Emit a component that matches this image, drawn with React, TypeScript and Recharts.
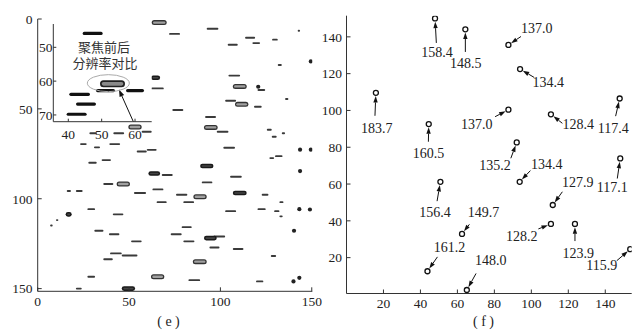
import React from 'react';
import { ScatterChart, Scatter, XAxis, YAxis, ReferenceLine, ReferenceDot, ReferenceArea } from 'recharts';

const FONT = '"Liberation Serif", "Times New Roman", serif';
const CJK = '"Liberation Serif", "Noto Sans CJK SC", serif';
const INK = '#222';

// ---------- panel (e) ----------
const eTicks = [0, 50, 100, 150];
// [x1, x2, y]
const thinDashes: [number, number, number][] = [
  [71.9, 77.9, 8.3], [92.5, 98.9, 5.4], [142.3, 143.6, 6.5], [113.5, 119, 10.4], [117.5, 121.7, 13.4],
  [128.3, 131.4, 11.5], [104, 109.5, 14.3], [131.4, 133.6, 25.6], [62, 69, 38.6], [104.4, 110.8, 31.5],
  [120.3, 124.5, 39.5], [135.4, 137.2, 44.5], [102.6, 108.6, 45.5], [118.4, 122.6, 48.8], [73.7, 79.7, 50.6],
  [91.6, 97.6, 54.5], [56.9, 62.4, 62.7], [98, 104.4, 62.7], [125.4, 128.1, 61.6], [128.1, 130.8, 65.5],
  [133.6, 135.4, 63.6], [28.3, 32.3, 63.6], [41.4, 47.3, 63.6], [23.2, 26.8, 69.6], [30.8, 34.1, 71.4],
  [39.2, 45.1, 69.6], [54.2, 59.7, 73.7], [59.7, 65.1, 72.8], [101.6, 108, 71.6], [126.8, 129.4, 77.4],
  [129.9, 134, 76.3], [27.7, 32.3, 80], [35, 40.1, 78.5], [67.9, 73.9, 86.8], [105.3, 111.7, 87.8],
  [35.9, 41.4, 91.8], [89.8, 95.6, 90.9], [15.9, 18.2, 95.7], [20.9, 24.6, 95.7], [52.7, 59.3, 96.8],
  [62.8, 68.8, 94.8], [75.7, 81.9, 97.8], [122.6, 126.3, 97.8], [65.1, 70.6, 101.9], [79.7, 85.6, 101.9],
  [132.3, 134.5, 101.9], [27.2, 31.4, 105.8], [41.1, 46.9, 108.7], [102.6, 108.6, 106.9], [120.3, 124.8, 105.8],
  [129.4, 132.3, 106.9], [132.3, 134.1, 109.8], [10, 11.3, 111.9], [6.8, 8.2, 114.9], [31, 36, 117.8],
  [39, 44.7, 119.8], [78.8, 84.3, 115.8], [72.8, 78.8, 119.8], [51.1, 56.9, 123.7], [79.7, 85.8, 123.7],
  [96.2, 102.6, 121], [94, 99.5, 127.1], [106.8, 112.6, 128], [127.6, 130.5, 131.9], [39.6, 46, 130.4],
  [46, 54.6, 131.6], [35.9, 41.1, 133.7], [27.2, 31.4, 143.4], [82.5, 88.9, 145.3], [119.5, 123.5, 146],
  [20.9, 24.1, 150],
];
const darkCapsules: [number, number, number][] = [
  [62, 67, 32.7], [88.9, 96.2, 81.8], [60.6, 67, 86], [106.8, 114.4, 96.8], [15.3, 18.6, 108.7],
  [91, 98, 121.9], [46, 53.3, 150],
];
const grayCapsules: [number, number, number][] = [
  [62.4, 70.6, 2], [106.8, 114.4, 37.5], [108, 115.3, 47.5], [49.6, 56.9, 60.1], [91, 98.5, 60.3],
  [43.2, 50.5, 91.8], [85.2, 92.5, 98.9], [84.9, 92.5, 135], [62, 69.3, 143.4],
];
const darkDots = [
  { x: 149.5, y: 23.6 }, { x: 120.7, y: 37.7 }, { x: 143.6, y: 72.7 }, { x: 149.5, y: 72.7 },
  { x: 143.6, y: 84.6 }, { x: 143.2, y: 105.8 }, { x: 149, y: 106 }, { x: 140.3, y: 117.8 },
  { x: 140, y: 146 }, { x: 143.2, y: 144 },
];

// inset
const insetXTicks = [40, 50, 60];
const insetYTicks = [50, 60, 70];
const insetDashes: [number, number, number][] = [
  [44.3, 50.3, 45.9], [48.3, 54.0, 62.8], [57.3, 62.7, 62.8], [40.3, 46.5, 63.9], [42.3, 48.3, 66.8], [39.5, 45.5, 69.8],
];
const insetCapsule: [number, number, number][] = [[49.5, 57, 60.8]];
const insetTitle = ['聚焦前后', '分辨率对比'];
const insetTitleAt = [{ x: 50.7, y: 50.0 }, { x: 51, y: 54.85 }];
const insetRing = { x: 52, y: 60.6 };
const insetArrow = [{ x: 59.5, y: 72 }, { x: 55.2, y: 62.5 }];

// ---------- panel (f) ----------
const fTicks = [20, 40, 60, 80, 100, 120, 140];
const fPoints = [
  { x: 47.9, y: 150, v: 158.4 }, { x: 64.3, y: 144.1, v: 148.5 }, { x: 15.9, y: 109.6, v: 183.7 },
  { x: 44.5, y: 92.6, v: 160.5 }, { x: 87.6, y: 135.6, v: 137.0 }, { x: 93.9, y: 122.5, v: 134.4 },
  { x: 87.6, y: 100.4, v: 137.0 }, { x: 110.6, y: 97.9, v: 128.4 }, { x: 147.8, y: 106.5, v: 117.4 },
  { x: 92.1, y: 82.6, v: 135.2 }, { x: 93.7, y: 61.2, v: 134.4 }, { x: 148.1, y: 73.9, v: 117.1 },
  { x: 111.6, y: 48.6, v: 127.9 }, { x: 110.6, y: 38.3, v: 128.2 }, { x: 123.6, y: 38.3, v: 123.9 },
  { x: 153.5, y: 24.6, v: 115.9 }, { x: 50.8, y: 61.2, v: 156.4 }, { x: 62.5, y: 32.9, v: 149.7 },
  { x: 43.8, y: 12.6, v: 161.2 }, { x: 65.1, y: 2.4, v: 148.0 },
];
// label centre (tx, ty) and arrow tail (ax, ay), data units
const fLabelPos = [
  { tx: 48.9, ty: 131.6, ax: 48.6, ay: 136.7 }, { tx: 64.5, ty: 125.6, ax: 64.3, ay: 131.8 },
  { tx: 16.4, ty: 90.4, ax: 15.4, ay: 97.1 }, { tx: 44.3, ty: 76.5, ax: 44.3, ay: 83 },
  { tx: 102.9, ty: 144.7, ax: 94.4, ay: 140.2 }, { tx: 109.2, ty: 115.2, ax: 101.6, ay: 117.9 },
  { tx: 70.5, ty: 92.6, ax: 80.4, ay: 96.6 }, { tx: 125.4, ty: 92.6, ax: 116.8, ay: 93.0 },
  { tx: 144.3, ty: 90.4, ax: 145.6, ay: 96.9 }, { tx: 80.4, ty: 70.2, ax: 88.9, ay: 74.0 },
  { tx: 108.3, ty: 70.6, ax: 99.5, ay: 67.3 }, { tx: 143.8, ty: 58, ax: 146.5, ay: 63 },
  { tx: 125.1, ty: 60.9, ax: 116.8, ay: 55.8 }, { tx: 94.8, ty: 31.6, ax: 103.8, ay: 35.6 },
  { tx: 125.4, ty: 22.5, ax: 123.6, ay: 29 }, { tx: 138.1, ty: 15.6, ax: 146.2, ay: 18.3 },
  { tx: 47.9, ty: 44.7, ax: 49, ay: 50.7 }, { tx: 74.1, ty: 44.4, ax: 66.5, ay: 38.1 },
  { tx: 55.7, ty: 25.4, ax: 49.2, ay: 20.4 }, { tx: 78.1, ty: 18.3, ax: 70.1, ay: 11.4 },
];

// ---------- shapes ----------
const capsule = (w: number, color: string, inner?: string, innerW?: number) => (p: any) => {
  const r = w / 2;
  let a = Math.min(p.x1, p.x2) + r;
  let b = Math.max(p.x1, p.x2) - r;
  if (b < a) { const m = (a + b) / 2; a = m; b = m; }
  return (
    <g>
      <line x1={a} x2={b} y1={p.y1} y2={p.y1} stroke={color} strokeWidth={w} strokeLinecap="round" />
      {inner ? <line x1={a} x2={b} y1={p.y1} y2={p.y1} stroke={inner} strokeWidth={innerW} strokeLinecap="round" /> : null}
    </g>
  );
};

const arrow = (gap: number, head: number, half: number) => (p: any) => {
  const dx = p.x2 - p.x1, dy = p.y2 - p.y1;
  const L = Math.hypot(dx, dy) || 1;
  const ux = dx / L, uy = dy / L;
  const ex = p.x2 - ux * gap, ey = p.y2 - uy * gap;
  const bx = ex - ux * head, by = ey - uy * head;
  return (
    <g>
      <line x1={p.x1} y1={p.y1} x2={bx} y2={by} stroke="#111" strokeWidth={1} />
      <polygon points={`${ex},${ey} ${bx - uy * half},${by + ux * half} ${bx + uy * half},${by - ux * half}`} fill="#111" />
    </g>
  );
};

const tickStyle = { fontFamily: FONT, fontSize: 13.5, fill: INK };
const axisLine = { stroke: '#333', strokeWidth: 1 };

const seg = (x1: number, x2: number, y: number) => [{ x: x1, y }, { x: x2, y }] as any;

function PanelE() {
  const xd: [number, number] = [0, 150.3];
  const yd: [number, number] = [0, 151.5];
  return (
    <ScatterChart width={330} height={333} margin={{ top: 19, right: 17.7, bottom: 11.7, left: 0 }}>
      <XAxis type="number" dataKey="x" domain={xd} ticks={eTicks} allowDataOverflow height={30}
        tickSize={-4} tickMargin={9.3} tick={tickStyle} axisLine={axisLine} tickLine={axisLine} />
      <XAxis xAxisId="top" orientation="top" type="number" domain={xd} ticks={eTicks} allowDataOverflow height={0}
        tickSize={-4} tick={false} axisLine={axisLine} tickLine={axisLine} />
      <YAxis type="number" dataKey="y" domain={yd} ticks={eTicks} reversed allowDataOverflow width={37.7}
        tickSize={-4} tickMargin={9.2} tick={tickStyle} axisLine={axisLine} tickLine={axisLine} />
      <YAxis yAxisId="right" orientation="right" type="number" domain={yd} ticks={eTicks} reversed allowDataOverflow width={0}
        tickSize={-4} tick={false} axisLine={axisLine} tickLine={axisLine} />
      {thinDashes.map((d, i) => (
        <ReferenceLine key={'t' + i} segment={seg(d[0], d[1], d[2])} ifOverflow="visible" shape={capsule(1.9, '#3a3a3a')} />
      ))}
      {grayCapsules.map((d, i) => (
        <ReferenceLine key={'g' + i} segment={seg(d[0], d[1], d[2])} ifOverflow="visible" shape={capsule(5, '#333', '#a0a0a0', 2.4)} />
      ))}
      {darkCapsules.map((d, i) => (
        <ReferenceLine key={'d' + i} segment={seg(d[0], d[1], d[2])} ifOverflow="visible" shape={capsule(4.6, '#1a1a1a', '#444', 1.6)} />
      ))}
      <Scatter data={darkDots} isAnimationActive={false}
        shape={(p: any) => <circle cx={p.cx} cy={p.cy} r={2.1} fill="#222" />} />
    </ScatterChart>
  );
}

function Inset() {
  const xd: [number, number] = [35.5, 65];
  const yd: [number, number] = [43.1, 72];
  const insetTick = { fontFamily: FONT, fontSize: 13.5, fill: INK };
  return (
    <ScatterChart width={160} height={145} margin={{ top: 24, right: 8.3, bottom: 3.3, left: 0 }}>
      <ReferenceArea x1={xd[0]} x2={xd[1]} y1={yd[0]} y2={yd[1]} fill="#fff" fillOpacity={1} stroke="none" ifOverflow="visible" />
      <XAxis type="number" dataKey="x" domain={xd} ticks={insetXTicks} allowDataOverflow height={20}
        tickSize={-3} tickMargin={11.2} tick={insetTick} axisLine={axisLine} tickLine={axisLine} />
      <XAxis xAxisId="top" orientation="top" type="number" domain={xd} ticks={insetXTicks} allowDataOverflow height={0}
        tickSize={-3} tick={false} axisLine={axisLine} tickLine={axisLine} />
      <YAxis type="number" dataKey="y" domain={yd} ticks={insetYTicks} reversed allowDataOverflow width={53.3}
        tickSize={-3} tickMargin={3.8} tick={insetTick} axisLine={axisLine} tickLine={axisLine} />
      <YAxis yAxisId="right" orientation="right" type="number" domain={yd} ticks={insetYTicks} reversed allowDataOverflow width={0}
        tickSize={-3} tick={false} axisLine={axisLine} tickLine={axisLine} />
      {insetDashes.map((d, i) => (
        <ReferenceLine key={'i' + i} segment={seg(d[0], d[1], d[2])} ifOverflow="visible" shape={capsule(3.2, '#111')} />
      ))}
      <ReferenceDot x={insetRing.x} y={insetRing.y} ifOverflow="visible"
        shape={(p: any) => <ellipse cx={p.cx} cy={p.cy} rx={21} ry={8.5} fill="none" stroke="#aaa" strokeWidth={1} />} />
      {insetCapsule.map((d, i) => (
        <ReferenceLine key={'c' + i} segment={seg(d[0], d[1], d[2])} ifOverflow="visible" shape={capsule(7, '#222', '#8a8a8a', 3.6)} />
      ))}
      <ReferenceLine segment={insetArrow as any} ifOverflow="visible" shape={arrow(0, 7, 2.5)} />
      {insetTitle.map((t, i) => (
        <ReferenceDot key={'tt' + i} x={insetTitleAt[i].x} y={insetTitleAt[i].y} ifOverflow="visible"
          shape={(p: any) => (
            <text x={p.cx} y={p.cy} textAnchor="middle" dominantBaseline="central" fontFamily={CJK} fontSize={13} fill="#333">{t}</text>
          )} />
      ))}
      <Scatter data={[]} isAnimationActive={false} />
    </ScatterChart>
  );
}

function PanelF() {
  const xd: [number, number] = [0, 154.3];
  const yd: [number, number] = [0.5, 151.5];
  return (
    <ScatterChart width={321} height={333} margin={{ top: 15.7, right: 9.3, bottom: 9.5, left: 0 }}>
      <XAxis type="number" dataKey="x" domain={xd} ticks={fTicks} allowDataOverflow height={30}
        tickSize={-4} tickMargin={8.7} tick={tickStyle} axisLine={axisLine} tickLine={axisLine} />
      <XAxis xAxisId="top" orientation="top" type="number" domain={xd} ticks={fTicks} allowDataOverflow height={0}
        tickSize={-4} tick={false} axisLine={axisLine} tickLine={axisLine} />
      <YAxis type="number" dataKey="y" domain={yd} ticks={fTicks} allowDataOverflow width={26.5}
        tickSize={-4} tickMargin={8.4} tick={tickStyle} axisLine={axisLine} tickLine={axisLine} />
      <YAxis yAxisId="right" orientation="right" type="number" domain={yd} ticks={fTicks} allowDataOverflow width={0}
        tickSize={-4} tick={false} axisLine={axisLine} tickLine={axisLine} />
      {fPoints.map((pt, i) => (
        <ReferenceLine key={'a' + i} segment={[{ x: fLabelPos[i].ax, y: fLabelPos[i].ay }, { x: pt.x, y: pt.y }] as any}
          ifOverflow="visible" shape={arrow(3.2, 6.5, 2.2)} />
      ))}
      {fPoints.map((pt, i) => (
        <ReferenceDot key={'l' + i} x={fLabelPos[i].tx} y={fLabelPos[i].ty} ifOverflow="visible"
          shape={(p: any) => (
            <text x={p.cx} y={p.cy} textAnchor="middle" dominantBaseline="central" fontFamily={FONT} fontSize={14} fill={INK}>
              {pt.v.toFixed(1)}
            </text>
          )} />
      ))}
      <Scatter data={fPoints} isAnimationActive={false}
        shape={(p: any) => <circle cx={p.cx} cy={p.cy} r={2.5} fill="#fff" stroke="#111" strokeWidth={1.3} />} />
    </ScatterChart>
  );
}

const captionStyle: React.CSSProperties = {
  position: 'absolute', width: 60, textAlign: 'center', fontFamily: FONT, fontSize: 14,
  lineHeight: '14px', color: INK, top: 315,
};

export default function App() {
  return (
    <div style={{ position: 'absolute', left: 0, top: 0, width: 641, height: 333, background: '#fff', overflow: 'hidden' }}>
      <div style={{ position: 'absolute', left: 0, top: 0 }}><PanelE /></div>
      <div style={{ position: 'absolute', left: 0, top: 0 }}><Inset /></div>
      <div style={{ position: 'absolute', left: 320, top: 0 }}><PanelF /></div>
      <div style={{ ...captionStyle, left: 138.5 }}>( e )</div>
      <div style={{ ...captionStyle, left: 453.5 }}>( f )</div>
    </div>
  );
}
